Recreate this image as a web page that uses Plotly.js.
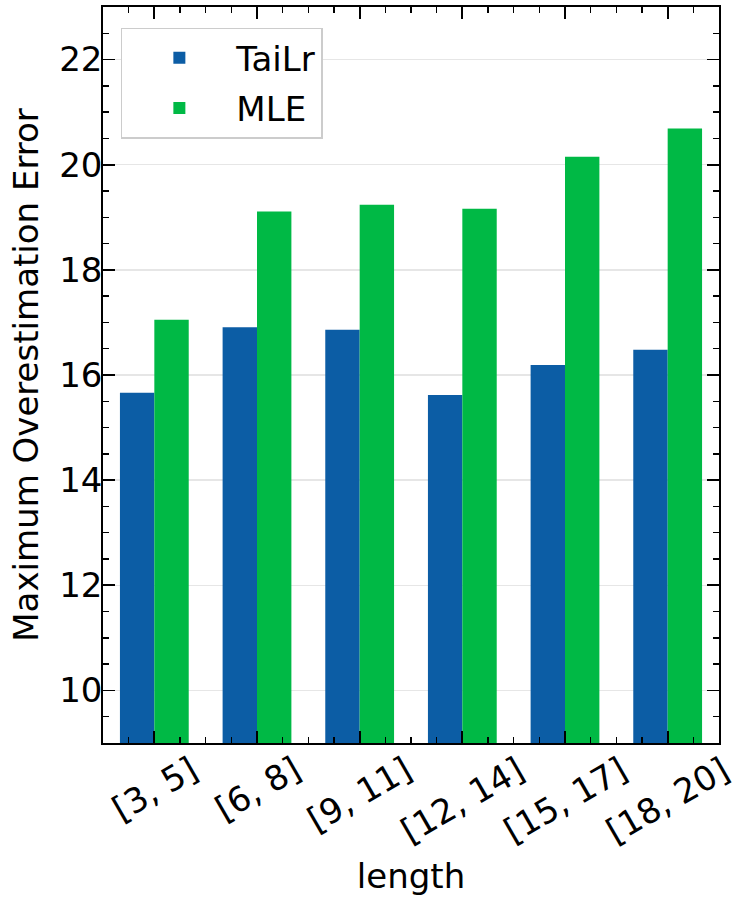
<!DOCTYPE html>
<html>
<head>
<meta charset="utf-8">
<script src="https://cdn.plot.ly/plotly-3.0.1.min.js"></script>
<style>
  body { margin: 0; background: #fff; }
  #chart { width: 747px; height: 902px; }
</style>
</head>
<body>
<div id="chart"></div>
<script>
var categories = ['[3, 5]', '[6, 8]', '[9, 11]', '[12, 14]', '[15, 17]', '[18, 20]'];
var tailrValues = [15.66, 16.91, 16.86, 15.62, 16.19, 16.48];
var mleValues = [17.05, 19.11, 19.24, 19.16, 20.15, 20.69];
var yTicks = [10, 12, 14, 16, 18, 20, 22];

var idx = categories.map(function (c, i) { return i; });
var font = 'DejaVu Sans, sans-serif';

var trace1 = {
  x: idx,
  y: tailrValues,
  name: 'TaiLr',
  type: 'bar',
  legendgroup: 'a',
  marker: {color: '#0C5DA5'}
};
var trace2 = {
  x: idx,
  y: mleValues,
  name: 'MLE',
  type: 'bar',
  legendgroup: 'b',
  marker: {color: '#00B945'}
};

// x tick labels drawn as rotated, centred text under each group
var labels = categories.map(function (c, i) {
  return {
    x: i, xref: 'x', y: 0, yref: 'paper',
    text: c, showarrow: false, textangle: -30,
    xanchor: 'center', yanchor: 'top', yshift: -3,
    font: {family: font, size: 34, color: '#000'}
  };
});

var layout = {
  width: 747,
  height: 902,
  margin: {l: 103, r: 28, t: 7, b: 159},
  paper_bgcolor: '#fff',
  plot_bgcolor: '#fff',
  font: {family: font, size: 34, color: '#000'},
  barmode: 'group',
  bargap: 0.33,
  bargroupgap: 0,
  showlegend: true,
  legend: {
    x: 0.029, y: 0.972, xanchor: 'left', yanchor: 'top',
    bgcolor: '#fff', bordercolor: '#cccccc', borderwidth: 1.5,
    font: {family: font, size: 34, color: '#000'},
    itemwidth: 104, traceorder: 'grouped', tracegroupgap: 3
  },
  xaxis: {
    range: [-0.5, 5.5],
    tickvals: idx,
    showticklabels: false,
    ticks: 'inside', ticklen: 12, tickwidth: 1.8, tickcolor: '#000',
    minor: {dtick: 0.25, tick0: -0.5, ticks: 'inside', ticklen: 6, tickwidth: 1.5, tickcolor: '#000'},
    showline: true, linecolor: '#000', linewidth: 1.8, mirror: 'allticks',
    showgrid: false, zeroline: false,
    layer: 'above traces',
    title: {text: 'length', standoff: 120, font: {family: font, size: 34, color: '#000'}},
    automargin: false
  },
  yaxis: {
    range: [9, 23],
    tickvals: yTicks,
    ticks: 'inside', ticklen: 12, tickwidth: 1.8, tickcolor: '#000',
    ticklabelstandoff: -8,
    minor: {dtick: 0.5, tick0: 0, ticks: 'inside', ticklen: 6, tickwidth: 1.5, tickcolor: '#000', showgrid: false},
    showline: true, linecolor: '#000', linewidth: 1.8, mirror: 'allticks',
    showgrid: true, gridcolor: '#e6e6e6', gridwidth: 1.5, zeroline: false,
    layer: 'above traces',
    tickfont: {family: font, size: 34, color: '#000'},
    title: {text: 'Maximum Overestimation Error', standoff: 10, font: {family: font, size: 34, color: '#000'}},
    automargin: false
  },
  annotations: labels
};

Plotly.newPlot('chart', [trace1, trace2], layout, {displayModeBar: false, staticPlot: true});
</script>
</body>
</html>
